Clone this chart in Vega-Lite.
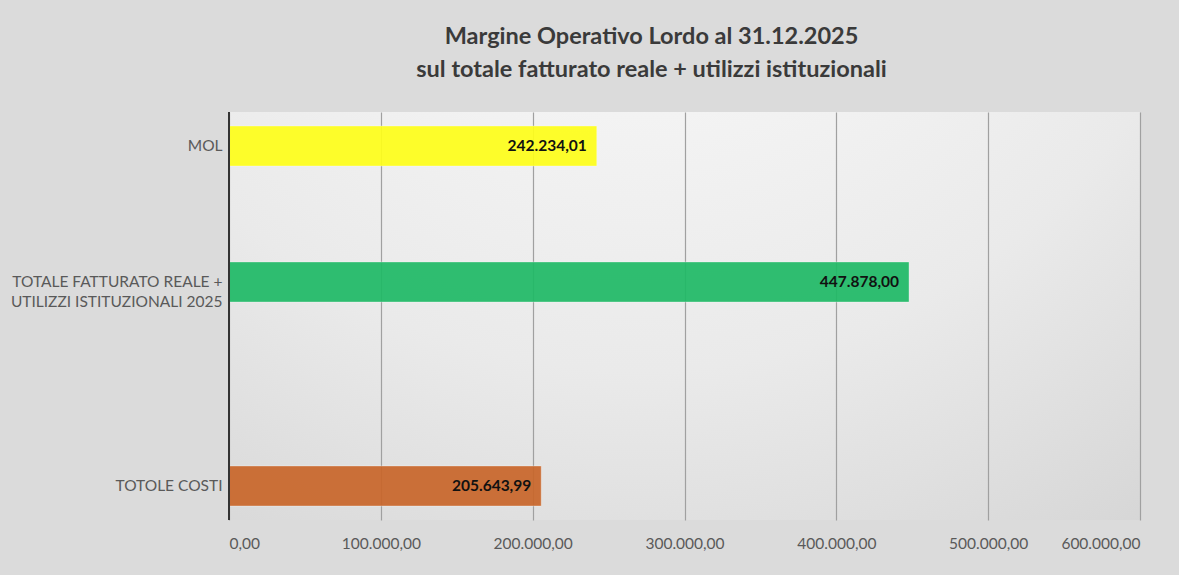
{
  "$schema": "https://vega.github.io/schema/vega-lite/v6.json",
  "width": 911,
  "height": 408,
  "autosize": {"type": "none"},
  "padding": {"left": 229, "top": 112, "right": 39, "bottom": 55},
  "background": "#dbdbdb",
  "config": {
    "font": "Lato",
    "locale": {"number": {"decimal": ",", "thousands": ".", "grouping": [3], "currency": ["", " €"]}},
    "view": {
      "stroke": null,
      "fill": {"gradient": "radial", "x1": 0.45, "y1": -0.1, "r1": 0, "x2": 0.45, "y2": -0.1, "r2": 1.1,
        "stops": [{"offset": 0, "color": "#ffffff"}, {"offset": 0.6, "color": "#eaeaea"}, {"offset": 1, "color": "#d0d0d0"}]}
    }
  },
  "title": {
    "text": ["Margine Operativo Lordo al 31.12.2025", "sul totale fatturato reale + utilizzi istituzionali"],
    "font": "Lato",
    "fontSize": 23.5,
    "fontWeight": "bold",
    "color": "#3a3a3a",
    "anchor": "middle",
    "frame": "group",
    "dx": -33,
    "lineHeight": 33,
    "offset": 30
  },
  "data": {
    "values": [
      {"voce": "MOL", "valore": 242234.01},
      {"voce": "TOTALE FATTURATO REALE + UTILIZZI ISTITUZIONALI 2025", "valore": 447878.00},
      {"voce": "TOTOLE COSTI", "valore": 205643.99}
    ]
  },
  "encoding": {
    "y": {
      "field": "voce",
      "type": "nominal",
      "scale": {
        "domain": ["MOL", "_a", "TOTALE FATTURATO REALE + UTILIZZI ISTITUZIONALI 2025", "_b", "_c", "TOTOLE COSTI"],
        "paddingInner": 0.41,
        "paddingOuter": 0.205
      },
      "axis": {
        "title": null,
        "domain": false,
        "ticks": false,
        "grid": false,
        "labelPadding": 7,
        "labelColor": "#595959",
        "labelFontSize": 15.5,
        "labelFont": "Lato",
        "labelLineHeight": 20,
        "labelLimit": 300,
        "labelExpr": "datum.value == 'TOTALE FATTURATO REALE + UTILIZZI ISTITUZIONALI 2025' ? ['TOTALE FATTURATO REALE +', 'UTILIZZI ISTITUZIONALI 2025'] : (indexof(datum.value, '_') == 0 ? '' : datum.value)"
      }
    }
  },
  "layer": [
    {
      "mark": {"type": "bar", "opacity": 0.92, "stroke": "#ffffff", "strokeOpacity": 0.35, "strokeWidth": 1},
      "encoding": {
        "x": {
          "field": "valore",
          "type": "quantitative",
          "scale": {"domain": [0, 600000], "nice": false},
          "axis": {
            "title": null,
            "values": [0, 100000, 200000, 300000, 400000, 500000, 600000],
            "format": ",.2f",
            "grid": true,
            "gridColor": "#a0a0a0",
            "gridWidth": 1.2,
            "domain": false,
            "ticks": false,
            "labelPadding": 16,
            "labelColor": "#595959",
            "labelFontSize": 15.5,
            "labelFont": "Lato"
          }
        },
        "color": {
          "field": "voce",
          "type": "nominal",
          "scale": {
            "domain": ["MOL", "TOTALE FATTURATO REALE + UTILIZZI ISTITUZIONALI 2025", "TOTOLE COSTI"],
            "range": ["#ffff1a", "#1fba66", "#c9662a"]
          },
          "legend": null
        }
      }
    },
    {
      "mark": {"type": "rule", "color": "#333333", "strokeWidth": 2},
      "encoding": {"x": {"datum": 0, "type": "quantitative"}, "y": null}
    },
    {
      "mark": {"type": "text", "align": "right", "dx": -10, "fontWeight": "bold", "fontSize": 15.5, "font": "Lato", "color": "#111111"},
      "encoding": {
        "x": {"field": "valore", "type": "quantitative"},
        "text": {"field": "valore", "type": "quantitative", "format": ",.2f"}
      }
    }
  ]
}
